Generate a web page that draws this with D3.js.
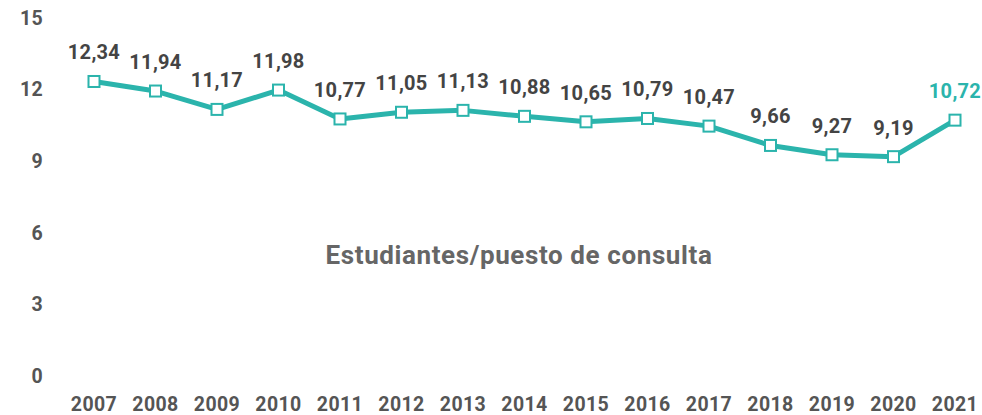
<!DOCTYPE html>
<html>
<head>
<meta charset="utf-8">
<script src="https://cdn.jsdelivr.net/npm/d3@7"></script>
<style>
  body { margin: 0; background: #fff; }
  svg { display: block; font-family: Roboto, "Noto Sans", sans-serif; font-weight: 700; }
</style>
</head>
<body>
<svg width="982" height="415"></svg>
<script>
const years = ["2007", "2008", "2009", "2010", "2011", "2012", "2013", "2014", "2015", "2016", "2017", "2018", "2019", "2020", "2021"];
const values = [12.34, 11.94, 11.17, 11.98, 10.77, 11.05, 11.13, 10.88, 10.65, 10.79, 10.47, 9.66, 9.27, 9.19, 10.72];
const yTicks = [0, 3, 6, 9, 12, 15];
const title = "Estudiantes/puesto de consulta";

const teal = "#2bb4ac";
const svg = d3.select("svg");

const x = d3.scalePoint().domain(years).range([94, 955]);
const y = d3.scaleLinear().domain([0, 15]).range([376, 18]);

const fmt = v => d3.format(".2f")(v).replace(".", ",");

// y tick labels
svg.append("g")
  .selectAll("text")
  .data(yTicks)
  .join("text")
  .attr("x", 43)
  .attr("y", d => y(d))
  .attr("dy", "0.35em")
  .attr("text-anchor", "end")
  .attr("font-size", 19.5)
  .attr("letter-spacing", 0.3)
  .attr("fill", "#555")
  .text(d => d);

// year labels
svg.append("g")
  .selectAll("text")
  .data(years)
  .join("text")
  .attr("x", d => x(d))
  .attr("y", 404)
  .attr("dy", "0.35em")
  .attr("text-anchor", "middle")
  .attr("font-size", 19.5)
  .attr("letter-spacing", 0.4)
  .attr("fill", "#555")
  .text(d => d);

// title
svg.append("text")
  .attr("x", 519)
  .attr("y", 255)
  .attr("dy", "0.35em")
  .attr("text-anchor", "middle")
  .attr("font-size", 26)
  .attr("letter-spacing", 0.6)
  .attr("fill", "#666")
  .text(title);

const data = years.map((yr, i) => ({ year: yr, value: values[i] }));

const line = d3.line()
  .x(d => x(d.year))
  .y(d => y(d.value));

svg.append("path")
  .datum(data)
  .attr("fill", "none")
  .attr("stroke", teal)
  .attr("stroke-width", 5)
  .attr("stroke-linejoin", "round")
  .attr("d", line);

const s = 11;
svg.append("g")
  .selectAll("rect")
  .data(data)
  .join("rect")
  .attr("x", d => x(d.year) - s / 2)
  .attr("y", d => y(d.value) - s / 2)
  .attr("width", s)
  .attr("height", s)
  .attr("fill", "#fff")
  .attr("stroke", teal)
  .attr("stroke-width", 2);

// value labels
svg.append("g")
  .selectAll("text")
  .data(data)
  .join("text")
  .attr("x", d => x(d.year))
  .attr("y", d => y(d.value) - 29)
  .attr("dy", "0.35em")
  .attr("text-anchor", "middle")
  .attr("font-size", 20)
  .attr("letter-spacing", 0.3)
  .attr("fill", (d, i) => i === data.length - 1 ? teal : "#444")
  .text(d => fmt(d.value));
</script>
</body>
</html>
